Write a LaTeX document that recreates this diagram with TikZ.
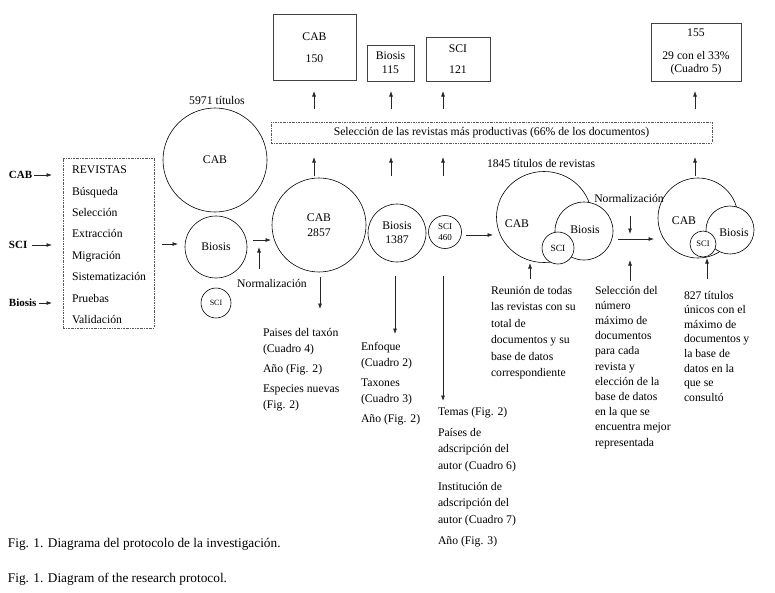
\documentclass[tikz,border=0pt]{standalone}
\usepackage{fontspec}
\setmainfont{Liberation Serif}
\usetikzlibrary{arrows.meta,shapes.geometric}
\newcommand\myfs{\fontsize{11.7}{16.5}\selectfont}
\begin{document}
\begin{tikzpicture}[x=1pt,y=-1pt,
  every node/.style={inner sep=0pt,outer sep=0pt,font=\myfs},
  arr/.style={-{Latex[length=5.5pt,width=4pt]},line width=0.7pt,draw=black!85},
  circ/.style={draw,circle,line width=0.6pt},
  wcirc/.style={draw,circle,fill=white,line width=0.6pt},
  topbox/.style={draw=black!75,line width=0.9pt,rectangle,align=center},
  dashbox/.style={draw=black!65,line width=0.5pt,dash pattern=on 2pt off 1pt on 0.6pt off 1pt},
  txt/.style={align=left,anchor=north west},
  boldlab/.style={font=\fontsize{11}{13}\selectfont\bfseries,anchor=west},
  capt/.style={anchor=west,font=\fontsize{13.3}{16}\selectfont},
]
\useasboundingbox (0,0) rectangle (775,592);

% ---------- left inputs ----------
\node[boldlab] (labcab) at (9,175) {CAB};
\node[boldlab] (labsci) at (9,245) {SCI};
\node[boldlab] (labbio) at (9,303) {Biosis};
\node[dashbox,minimum width=91pt,minimum height=170pt] (rev) at (108.5,243) {};
\node[txt,font=\fontsize{11.7}{21.4}\selectfont] (revtxt) at (72,166)
  {REVISTAS\\Búsqueda\\Selección\\Extracción\\Migración\\Sistematización\\Pruebas\\Validación};
\draw[arr,shorten <=2pt,shorten >=11pt] (labcab.east) -- (labcab.east -| rev.west);
\draw[arr,shorten <=5pt,shorten >=11pt] (labsci.east) -- (labsci.east -| rev.west);
\draw[arr,shorten <=2pt,shorten >=11pt] (labbio.east) -- (labbio.east -| rev.west);

% ---------- first stage circles ----------
\node (t5971) at (217,100) {5971 títulos};
\node[circ,minimum size=104pt] (cab1) at (215,160) {CAB};
\node[circ,minimum size=62pt] (bio1) at (216,247) {Biosis};
\node[circ,minimum size=30pt,font=\fontsize{8}{9}\selectfont] (sci1) at (216,303) {SCI};
\coordinate (r1) at (162,244);
\coordinate (r2) at (178,244);
\draw[arr] (r1) -- (r2);

\coordinate (n1) at (253,240);
\coordinate (n2) at (271,240);
\draw[arr] (n1) -- (n2);
\coordinate (nu1) at (259,269);
\coordinate (nu2) at (259,247);
\draw[arr] (nu1) -- (nu2);
\node (norm1) at (272,283) {Normalización};

% ---------- second stage circles ----------
\node[circ,minimum size=94pt,align=center] (cab2) at (319,225) {CAB\\[-2pt]2857};
\node[circ,minimum size=58pt,align=center] (bio2) at (397,233) {Biosis\\[-2.5pt]1387};
\node[circ,minimum size=33pt,align=center,font=\fontsize{9}{11}\selectfont] (sci2) at (445,232) {SCI\\460};

% ---------- top boxes ----------
\node[topbox,minimum width=83pt,minimum height=66pt] (b150) at (314.5,47.5) {CAB\\[5pt]150};
\node[topbox,minimum width=47pt,minimum height=36pt] (b115) at (390.5,63) {Biosis\\[-2.8pt]115};
\node[topbox,minimum width=64pt,minimum height=44pt] (b121) at (458,59) {SCI\\[4.2pt]121};
\node[topbox,minimum width=90pt,minimum height=58pt] (b155) at (696,52) {155\\[6.2pt]29 con el 33\%\\[-2.8pt](Cuadro 5)};

\node[dashbox,minimum width=441pt,minimum height=21pt] (sel) at (491.5,132.5)
  {Selección de las revistas más productivas (66\% de los documentos)};

% arrows above the selection box
\foreach \i/\x in {1/314,2/391,3/443,4/695}{
  \coordinate (ua\i) at (\x,109);
  \coordinate (ub\i) at (\x,91);
  \draw[arr] (ua\i) -- (ub\i);
}
% arrows below the selection box
\foreach \i/\x in {1/314,2/391,3/443,4/695}{
  \coordinate (la\i) at (\x,176);
  \coordinate (lb\i) at (\x,157);
  \draw[arr] (la\i) -- (lb\i);
}

% ---------- down arrows and lists ----------
\coordinate (d1a) at (320,277); \coordinate (d1b) at (320,309);
\draw[arr] (d1a) -- (d1b);
\coordinate (d2a) at (395,276); \coordinate (d2b) at (395,334);
\draw[arr] (d2a) -- (d2b);
\coordinate (d3a) at (443,276); \coordinate (d3b) at (443,401);
\draw[arr] (d3a) -- (d3b);

\node[txt,font=\fontsize{11.7}{16}\selectfont] (list1) at (263,328)
  {Paises del taxón\\(Cuadro 4)\\[4pt]Año (Fig. 2)\\[4pt]Especies nuevas\\(Fig. 2)};
\node[txt,font=\fontsize{11.7}{16}\selectfont] (list2) at (361,342)
  {Enfoque\\(Cuadro 2)\\[4pt]Taxones\\(Cuadro 3)\\[4pt]Año (Fig. 2)};
\node[txt,font=\fontsize{11.7}{16.5}\selectfont] (list3) at (438,407)
  {Temas (Fig. 2)\\[4.5pt]Países de\\adscripción del\\autor (Cuadro 6)\\[4.5pt]Institución de\\adscripción del\\autor (Cuadro 7)\\[4.5pt]Año (Fig. 3)};

% ---------- union (Venn 1) ----------
\coordinate (s1) at (466,235); \coordinate (s2) at (493,235);
\draw[arr] (s1) -- (s2);
\node[anchor=west] (t1845) at (487,163) {1845 títulos de revistas};
\node[draw,ellipse,line width=0.6pt,minimum width=95pt,minimum height=91pt] (v1cab) at (544,217) {};
\node[wcirc,minimum size=58pt] (v1bio) at (584,231) {};
\node (v1biot) at (585,230) {Biosis};
\node[wcirc,minimum size=32pt,font=\fontsize{9.5}{11}\selectfont] (v1sci) at (558,248) {SCI};
\node (v1cabt) at (517,224) {CAB};
\coordinate (v1a) at (530,279); \coordinate (v1b) at (530,263);
\draw[arr] (v1a) -- (v1b);
\node[txt] (reun) at (491,286)
  {Reunión de todas\\las revistas con su\\total de\\documentos y su\\base de datos\\correspondiente};

% ---------- normalisation ----------
\node (norm2) at (629,198) {Normalización};
\coordinate (m1) at (630,216); \coordinate (m2) at (630,234);
\draw[arr] (m1) -- (m2);
\coordinate (h1) at (618,239); \coordinate (h2) at (654,239);
\draw[arr] (h1) -- (h2);
\coordinate (k1) at (630,281); \coordinate (k2) at (630,260);
\draw[arr] (k1) -- (k2);
\node[txt,font=\fontsize{11.7}{15.2}\selectfont] (selmax) at (595,286)
  {Selección del\\número\\máximo de\\documentos\\para cada\\revista y\\elección de la\\base de datos\\en la que se\\encuentra mejor\\representada};

% ---------- Venn 2 ----------
\node[circ,minimum size=80pt] (v2cab) at (698,218) {};
\node[wcirc,minimum size=48pt] (v2bio) at (730,230) {};
\node (v2biot) at (734,233) {Biosis};
\node[wcirc,minimum size=26pt,font=\fontsize{8.5}{10}\selectfont] (v2sci) at (703,244) {SCI};
\node (v2cabt) at (684,221) {CAB};
\coordinate (w1) at (707,279); \coordinate (w2) at (707,258);
\draw[arr] (w1) -- (w2);
\node[txt,font=\fontsize{11.7}{14.6}\selectfont] (t827) at (684,291)
  {827 títulos\\únicos con el\\máximo de\\documentos y\\la base de\\datos en la\\que se\\consultó};

% ---------- captions ----------
\node[capt] (cap1) at (8,544) {Fig. 1. Diagrama del protocolo de la investigación.};
\node[capt] (cap2) at (8,579) {Fig. 1. Diagram of the research protocol.};
\end{tikzpicture}
\end{document}
